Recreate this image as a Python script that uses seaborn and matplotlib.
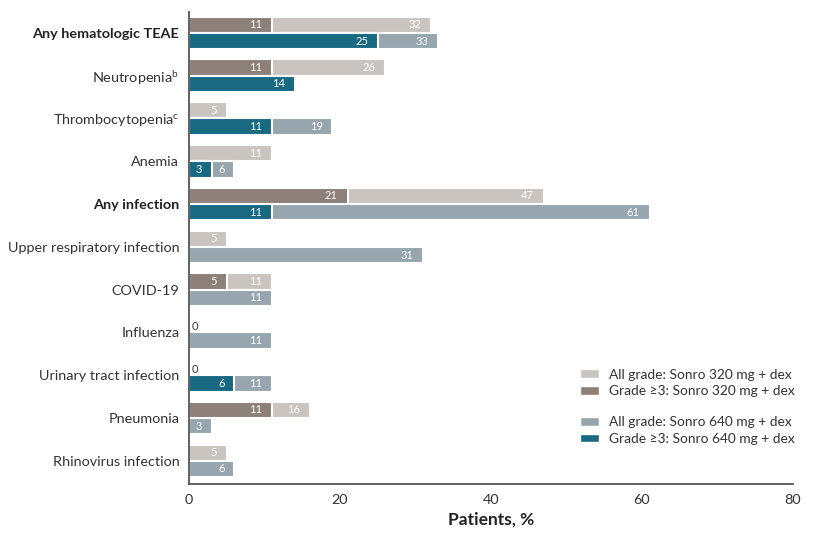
import numpy as np
import pandas as pd
import matplotlib
matplotlib.use('Agg')
import matplotlib.pyplot as plt
from matplotlib.patches import Patch
import seaborn as sns

# -----------------------------
# DATA
# -----------------------------
categories = [
    "Any hematologic TEAE",
    "Neutropenia$^{\\mathrm{b}}$",
    "Thrombocytopenia$^{\\mathrm{c}}$",
    "Anemia",
    "Any infection",
    "Upper respiratory infection",
    "COVID-19",
    "Influenza",
    "Urinary tract infection",
    "Pneumonia",
    "Rhinovirus infection",
]
bold_categories = ["Any hematologic TEAE", "Any infection"]

all_320 = [32, 26, 5, 11, 47, 5, 11, 0, 0, 16, 5]
g3_320 = [11, 11, np.nan, np.nan, 21, np.nan, 5, np.nan, np.nan, 11, np.nan]
all_640 = [33, 14, 19, 6, 61, 31, 11, 11, 11, 3, 6]
g3_640 = [25, 14, 11, 3, 11, np.nan, np.nan, np.nan, 6, np.nan, np.nan]

doses = ["320", "640"]
legend_labels = [
    "All grade: Sonro 320 mg + dex",
    "Grade \u22653: Sonro 320 mg + dex",
    "All grade: Sonro 640 mg + dex",
    "Grade \u22653: Sonro 640 mg + dex",
]

# colours
c_all_320 = "#c9c4bf"
c_g3_320 = "#8c8079"
c_all_640 = "#97a6ae"
c_g3_640 = "#196982"

# -----------------------------
# LONG TABLE
# -----------------------------
df = pd.DataFrame({
    "cat": categories * 2,
    "dose": ["320"] * len(categories) + ["640"] * len(categories),
    "all": all_320 + all_640,
    "g3": g3_320 + g3_640,
})

# -----------------------------
# STYLE
# -----------------------------
sns.set_theme(style="white")
plt.rcParams['font.family'] = ['Lato', 'DejaVu Sans']
plt.rcParams['mathtext.fontset'] = 'custom'
plt.rcParams['mathtext.rm'] = 'Lato'

fig = plt.figure(figsize=(8.16, 5.41), dpi=100)
ax = fig.add_axes([0.2316, 0.1054, 0.7402, 0.8726])

bar_w = 0.76
sns.barplot(data=df, x="all", y="cat", hue="dose", order=categories,
            hue_order=doses, palette=[c_all_320, c_all_640], orient="h",
            width=bar_w, errorbar=None, edgecolor="white", linewidth=1.5,
            saturation=1, legend=False, ax=ax)
sns.barplot(data=df, x="g3", y="cat", hue="dose", order=categories,
            hue_order=doses, palette=[c_g3_320, c_g3_640], orient="h",
            width=bar_w, errorbar=None, edgecolor="white", linewidth=1.5,
            saturation=1, legend=False, ax=ax)

# -----------------------------
# VALUE LABELS
# -----------------------------
series = [all_320, all_640, g3_320, g3_640]
for k, cont in enumerate(ax.containers):
    vals = series[k]
    for p in cont.patches:
        w = p.get_width()
        yc = p.get_y() + p.get_height() / 2
        if not np.isfinite(w):
            continue
        i = int(round(yc))
        v = vals[i]
        if np.isnan(v):
            continue
        # skip all-grade label when grade>=3 covers it
        if k < 2:
            other = (g3_320 if k == 0 else g3_640)[i]
            if not np.isnan(other) and other == v:
                continue
        if v == 0:
            ax.annotate("0", (0, yc), xytext=(2, -1.5), textcoords="offset points",
                        ha="left", va="center", fontsize=8, color="#333333")
        else:
            ax.annotate(f"{v:g}", (w, yc), xytext=(-7, 0), textcoords="offset points",
                        ha="right", va="center", fontsize=8, color="white")

# -----------------------------
# AXES
# -----------------------------
ax.set_xlim(0, 80)
ax.set_ylim(10.54, -0.49)
ax.set_xticks([0, 20, 40, 60, 80])
ax.set_xlabel("Patients, %", fontsize=12.5, fontweight="bold", color="#222222", labelpad=4)
ax.set_ylabel("")
sns.despine(ax=ax)
for s in ["left", "bottom"]:
    ax.spines[s].set_color("#555555")
    ax.spines[s].set_linewidth(1.3)
ax.tick_params(axis="both", which="both", direction="out", length=4, width=1,
               color="#555555", labelsize=10.4, labelcolor="#333333", pad=3)
for lab in ax.get_yticklabels():
    if lab.get_text() in bold_categories:
        lab.set_fontweight("bold")
        lab.set_color("#222222")

# -----------------------------
# LEGEND (two blocks)
# -----------------------------
leg_kw = dict(loc="center left", frameon=False, fontsize=9.9, handlelength=1.4,
              handleheight=0.6, labelspacing=0.35, handletextpad=0.7,
              labelcolor="#333333", borderpad=0, borderaxespad=0,
              bbox_transform=fig.transFigure)
leg1 = ax.legend(handles=[Patch(facecolor=c_all_320, label=legend_labels[0]),
                          Patch(facecolor=c_g3_320, label=legend_labels[1])],
                 bbox_to_anchor=(580 / 816, 1 - 383 / 541), **leg_kw)
ax.add_artist(leg1)
ax.legend(handles=[Patch(facecolor=c_all_640, label=legend_labels[2]),
                   Patch(facecolor=c_g3_640, label=legend_labels[3])],
          bbox_to_anchor=(580 / 816, 1 - 430.5 / 541), **leg_kw)

plt.savefig("out.png", dpi=100)
plt.close()
